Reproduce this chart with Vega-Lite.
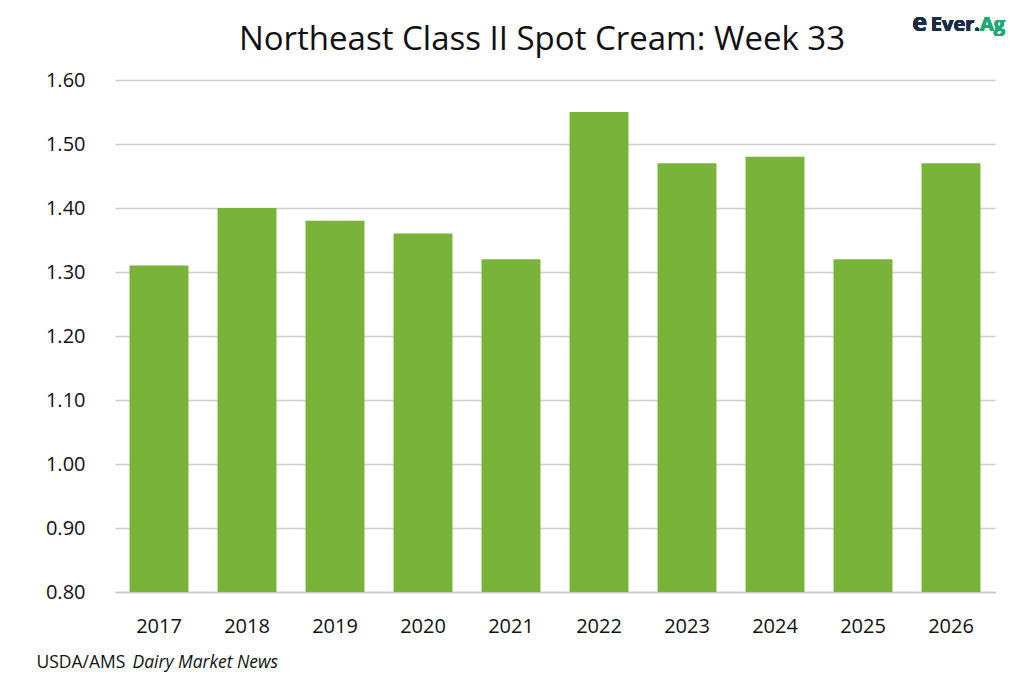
{
  "$schema": "https://vega.github.io/schema/vega-lite/v6.json",
  "width": 880,
  "height": 512,
  "autosize": "none",
  "padding": {"left": 115, "top": 80, "right": 29, "bottom": 91},
  "background": "white",
  "title": {
    "text": "Northeast Class II Spot Cream: Week 33",
    "font": "Open Sans",
    "fontSize": 33,
    "fontWeight": "normal",
    "color": "#111111",
    "anchor": "middle",
    "offset": 0,
    "dx": -13,
    "dy": 46
  },
  "data": {
    "values": [
      {"year": "2017", "price": 1.31},
      {"year": "2018", "price": 1.40},
      {"year": "2019", "price": 1.38},
      {"year": "2020", "price": 1.36},
      {"year": "2021", "price": 1.32},
      {"year": "2022", "price": 1.55},
      {"year": "2023", "price": 1.47},
      {"year": "2024", "price": 1.48},
      {"year": "2025", "price": 1.32},
      {"year": "2026", "price": 1.47}
    ]
  },
  "encoding": {
    "x": {
      "field": "year",
      "type": "nominal",
      "sort": null,
      "scale": {"paddingInner": 0.33, "paddingOuter": 0.165},
      "axis": {
        "labelAngle": 0,
        "labelFont": "Open Sans",
        "labelFontSize": 20,
        "labelColor": "#111111",
        "labelPadding": 24,
        "ticks": false,
        "domainColor": "#c8c8c8",
        "domainWidth": 1.5,
        "title": "USDA/AMS",
        "titleFont": "Open Sans",
        "titleFontSize": 17.5,
        "titleFontWeight": "normal",
        "titleColor": "#111111",
        "titleAnchor": "start",
        "titleAlign": "left",
        "titleBaseline": "alphabetic",
        "titleX": -79,
        "titleY": 75
      }
    },
    "y": {
      "field": "price",
      "type": "quantitative",
      "scale": {"domain": [0.8, 1.6], "nice": false, "zero": false},
      "axis": {
        "values": [0.8, 0.9, 1.0, 1.1, 1.2, 1.3, 1.4, 1.5, 1.6],
        "format": ".2f",
        "labelFont": "Open Sans",
        "labelFontSize": 20,
        "labelColor": "#111111",
        "labelPadding": 30,
        "ticks": false,
        "domain": false,
        "gridColor": "#cccccc",
        "gridWidth": 1.5,
        "title": "Dairy Market News",
        "titleFont": "Open Sans",
        "titleFontSize": 17.5,
        "titleFontWeight": "normal",
        "titleFontStyle": "italic",
        "titleColor": "#111111",
        "titleAngle": 0,
        "titleAlign": "left",
        "titleBaseline": "alphabetic",
        "titleX": 17,
        "titleY": 587
      }
    }
  },
  "layer": [
    {
      "mark": {"type": "bar", "color": "#7ab33a", "clip": true},
      "encoding": {}
    },
    {
      "mark": {"type": "text", "text": "Ever.", "font": "Open Sans", "fontSize": 20, "fontWeight": "bold", "color": "#1e2b45", "align": "right", "baseline": "middle", "dx": 29, "dy": -55},
      "encoding": {
        "x": {"datum": "2026"},
        "y": {"datum": 1.6}
      }
    },
    {
      "mark": {"type": "text", "text": "Ag", "font": "Open Sans", "fontSize": 20, "fontWeight": "bold", "color": "#1fa974", "align": "left", "baseline": "middle", "dx": 29, "dy": -55},
      "encoding": {
        "x": {"datum": "2026"},
        "y": {"datum": 1.6}
      }
    },
    {
      "mark": {"type": "text", "text": "e", "font": "Open Sans", "fontSize": 25, "fontWeight": "bold", "color": "#1e2b45", "align": "right", "baseline": "middle", "dx": -24, "dy": -57},
      "encoding": {
        "x": {"datum": "2026"},
        "y": {"datum": 1.6}
      }
    }
  ],
  "config": {
    "view": {"stroke": null}
  }
}
